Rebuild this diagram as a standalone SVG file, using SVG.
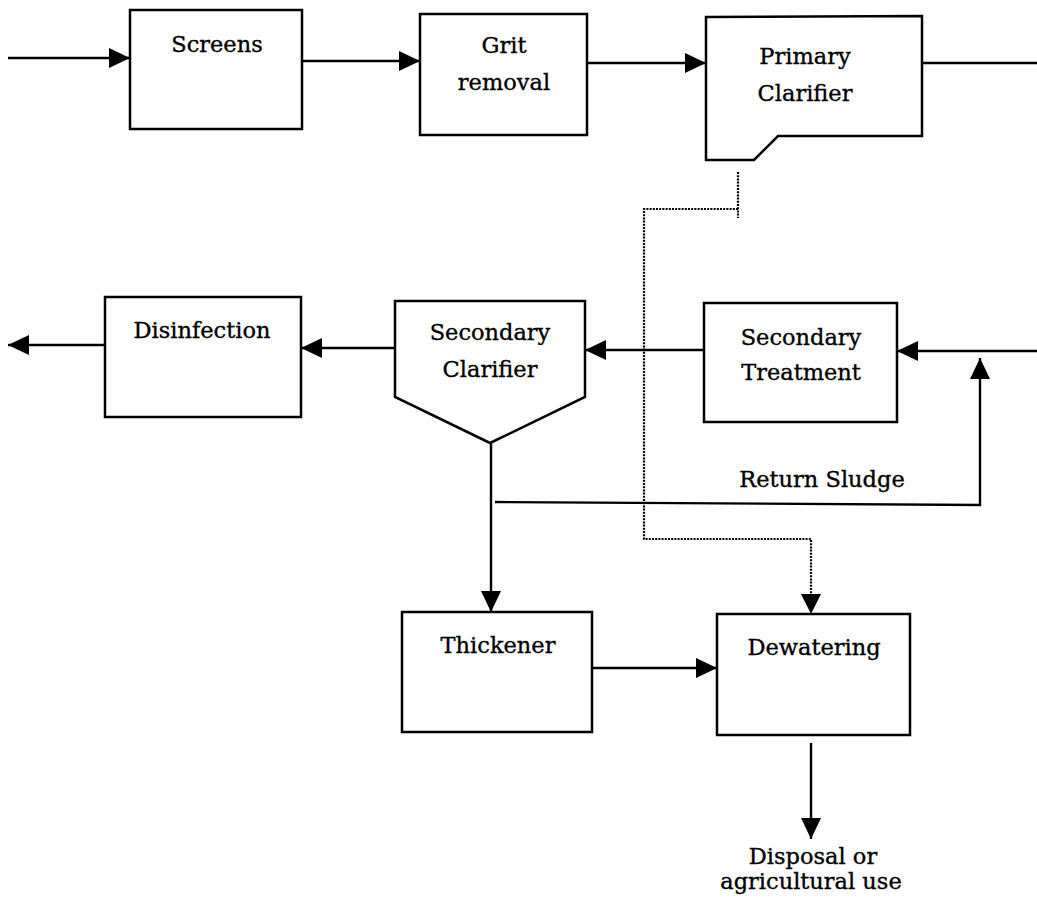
<svg xmlns="http://www.w3.org/2000/svg" width="1037" height="905" viewBox="0 0 1037 905">
  <style>
    .box { fill: #fff; stroke: #000; stroke-width: 2.5; stroke-linejoin: miter; }
    .line { fill: none; stroke: #000; stroke-width: 2.4; }
    .dot { fill: none; stroke: #000; stroke-width: 2.2; stroke-dasharray: 2 1.2; }
    .label { font-family: "DejaVu Serif", "Liberation Serif", serif; font-size: 22.5px; fill: #000; stroke: #000; stroke-width: 0.35; text-anchor: middle; }
  </style>
  <defs>
    <marker id="arrow" markerUnits="userSpaceOnUse" markerWidth="22" markerHeight="22" refX="21" refY="10" orient="auto">
      <path d="M0,0 L21,10 L0,20 Z" fill="#000"/>
    </marker>
  </defs>

  <rect width="1037" height="905" fill="#fff"/>

  <!-- connectors -->
  <g id="connectors">
    <!-- main liquid train -->
    <line class="line" x1="8" y1="58" x2="130" y2="58" marker-end="url(#arrow)"/>
    <line class="line" x1="302" y1="61" x2="420" y2="61" marker-end="url(#arrow)"/>
    <line class="line" x1="587" y1="63" x2="706" y2="63" marker-end="url(#arrow)"/>
    <line class="line" x1="922" y1="63" x2="1037" y2="63"/>
    <line class="line" x1="1037" y1="351" x2="897" y2="351" marker-end="url(#arrow)"/>
    <line class="line" x1="704" y1="350" x2="585" y2="350" marker-end="url(#arrow)"/>
    <line class="line" x1="395" y1="348" x2="301" y2="348" marker-end="url(#arrow)"/>
    <line class="line" x1="105" y1="345" x2="8" y2="345" marker-end="url(#arrow)"/>

    <!-- return sludge loop -->
    <polyline class="line" points="495,502 980,505 980,358" marker-end="url(#arrow)"/>

    <!-- sludge line -->
    <line class="line" x1="491" y1="443" x2="491" y2="612" marker-end="url(#arrow)"/>
    <line class="line" x1="592" y1="668" x2="717" y2="668" marker-end="url(#arrow)"/>
    <line class="line" x1="811" y1="743" x2="811" y2="839" marker-end="url(#arrow)"/>

    <!-- primary sludge (dotted) -->
    <line class="dot" x1="738" y1="172" x2="738" y2="218"/>
    <polyline class="dot" points="738,209 644,209 644,539 811,539 811,596"/>
    <path d="M801,594 L821,594 L811,614 Z" fill="#000"/>

    <text class="label" x="822" y="487">Return Sludge</text>
  </g>

  <g id="screens">
    <rect class="box" x="130" y="10" width="172" height="119"/>
    <text class="label" x="217" y="52">Screens</text>
  </g>

  <g id="grit-removal">
    <rect class="box" x="420" y="14" width="167" height="121"/>
    <text class="label" x="504" y="53">Grit</text>
    <text class="label" x="504" y="90">removal</text>
  </g>

  <g id="primary-clarifier">
    <path class="box" d="M706,17 L922,16 L922,136 L778,136 L754,160 L706,160 Z"/>
    <text class="label" x="805" y="64">Primary</text>
    <text class="label" x="805" y="101">Clarifier</text>
  </g>

  <g id="secondary-treatment">
    <rect class="box" x="704" y="303" width="193" height="119"/>
    <text class="label" x="801" y="345">Secondary</text>
    <text class="label" x="801" y="380">Treatment</text>
  </g>

  <g id="secondary-clarifier">
    <path class="box" d="M395,301 L585,301 L585,397 L490,443 L395,397 Z"/>
    <text class="label" x="490" y="340">Secondary</text>
    <text class="label" x="490" y="377">Clarifier</text>
  </g>

  <g id="disinfection">
    <rect class="box" x="105" y="297" width="196" height="120"/>
    <text class="label" x="202" y="338">Disinfection</text>
  </g>

  <g id="thickener">
    <rect class="box" x="402" y="612" width="190" height="120"/>
    <text class="label" x="498" y="653">Thickener</text>
  </g>

  <g id="dewatering">
    <rect class="box" x="717" y="614" width="193" height="121"/>
    <text class="label" x="814" y="655">Dewatering</text>
  </g>

  <g id="disposal">
    <text class="label" x="813" y="864">Disposal or</text>
    <text class="label" x="811" y="889">agricultural use</text>
  </g>
</svg>
